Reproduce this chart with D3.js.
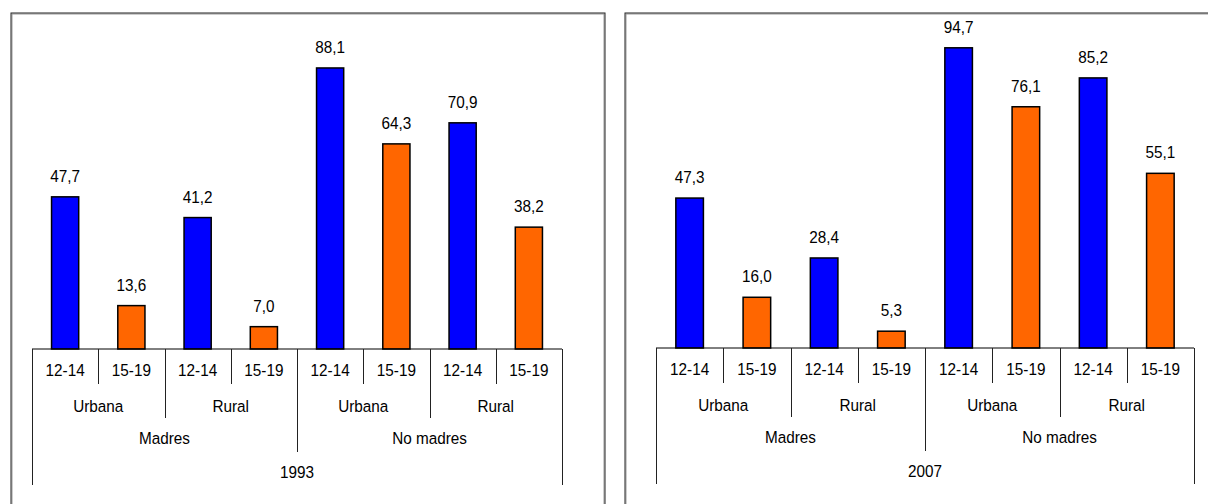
<!DOCTYPE html>
<html><head><meta charset="utf-8">
<script src="https://cdn.jsdelivr.net/npm/d3@7"></script>
<style>
html,body{margin:0;padding:0;background:#fff;}
svg text{font-family:"Liberation Sans Narrow","Arial Narrow","Liberation Sans",Arial,sans-serif;font-size:17px;fill:#000;}
</style></head>
<body><svg id="c" width="1208" height="504"></svg>
<script>
const ageGroups = ["12-14","15-19","12-14","15-19","12-14","15-19","12-14","15-19"];
const areaGroups = ["Urbana","Rural","Urbana","Rural"];
const motherGroups = ["Madres","No madres"];
const years = ["1993","2007"];
const values1993 = [47.7,13.6,41.2,7.0,88.1,64.3,70.9,38.2];
const values2007 = [47.3,16.0,28.4,5.3,94.7,76.1,85.2,55.1];
const barColors = ["#0000FF","#FF6600"];

const svg = d3.select("#c");
const fmt = v => d3.format(".1f")(v).replace(".", ",");
const SX = 0.9;

const panels = [
  {year: years[0], values: values1993, frame:[11,13,594,520], x0:32, x1:562, axisY:349, top100:30},
  {year: years[1], values: values2007, frame:[625,13,640,520], x0:656, x1:1194, axisY:348, top100:31}
];

function label(g, x, y, t) {
  return g.append("text").attr("transform", `translate(${x},${y}) scale(${SX},1)`)
    .attr("text-anchor","middle").text(t);
}

panels.forEach(p => {
  const g = svg.append("g");
  const [fx,fy,fw,fh] = p.frame;
  g.append("rect").attr("x",fx+1).attr("y",fy+1).attr("width",fw-2).attr("height",fh-2)
    .attr("fill","none").attr("stroke","#9a9a9a").attr("stroke-width",1);
  g.append("rect").attr("x",fx).attr("y",fy).attr("width",fw).attr("height",fh)
    .attr("fill","none").attr("stroke","#222").attr("stroke-width",1);

  const idx = d3.range(ageGroups.length);
  const x = d3.scaleBand().domain(idx).range([p.x0,p.x1]).padding(0);
  const y = d3.scaleLinear().domain([0,100]).range([p.axisY,p.top100]);
  const bw = x.bandwidth()*0.41;

  g.selectAll("rect.bar").data(p.values).join("rect").attr("class","bar")
    .attr("x",(d,i)=>x(i)+x.bandwidth()/2-bw/2)
    .attr("y",d=>y(d)).attr("width",bw).attr("height",d=>y(0)-y(d))
    .attr("fill",(d,i)=>barColors[i%2]).attr("stroke","#000").attr("stroke-width",1.5);
  p.values.forEach((d,i)=>label(g, x(i)+x.bandwidth()/2, y(d)-15, fmt(d)));

  g.append("line").attr("x1",p.x0).attr("x2",p.x1).attr("y1",p.axisY).attr("y2",p.axisY)
    .attr("stroke","#000").attr("stroke-width",1);

  const A = p.axisY;
  const depth = i => {
    if (i===0 || i===8) return 136;
    if (i%4===0) return 103;
    if (i%2===0) return 69;
    return 35;
  };
  d3.range(9).forEach(i => {
    const xx = i<8 ? x(i) : p.x1;
    g.append("line").attr("x1",Math.round(xx)+0.5).attr("x2",Math.round(xx)+0.5)
      .attr("y1",A).attr("y2",A+depth(i)).attr("stroke","#222").attr("stroke-width",1);
  });

  ageGroups.forEach((t,i)=>label(g, x(i)+x.bandwidth()/2, A+27, t));
  areaGroups.forEach((t,i)=>label(g, x(i*2)+x.bandwidth(), A+63, t));
  motherGroups.forEach((t,i)=>label(g, x(i*4)+x.bandwidth()*2, A+95, t));
  label(g, (p.x0+p.x1)/2, A+129, p.year);
});
</script></body></html>
